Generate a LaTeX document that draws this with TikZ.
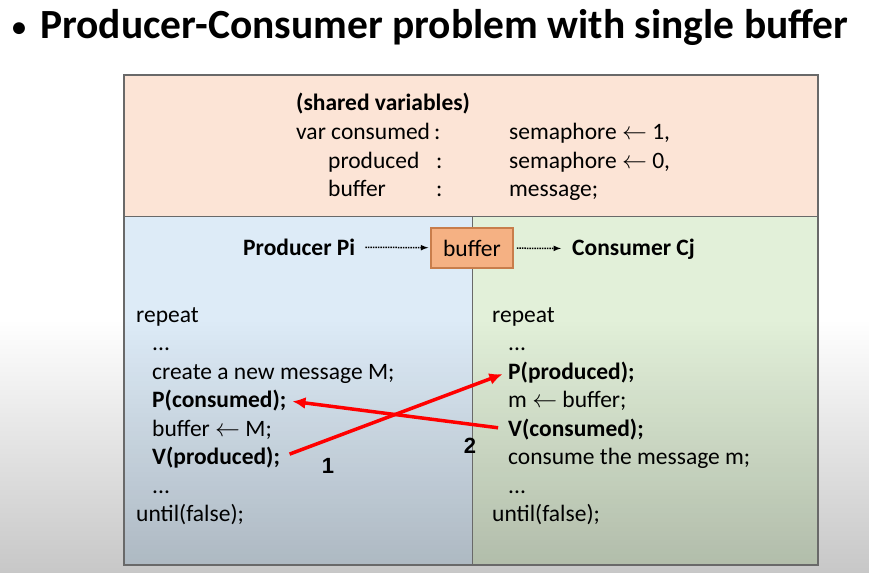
\documentclass[tikz,border=0pt]{standalone}
\usepackage{fontspec}
\setmainfont{Carlito}
\newfontfamily\numfont{Liberation Sans}
\usetikzlibrary{arrows,arrows.meta,positioning,fadings}

\definecolor{peach}{RGB}{252,228,214}
\definecolor{paleblue}{RGB}{221,235,247}
\definecolor{palegreen}{RGB}{226,240,217}
\definecolor{bufferfill}{RGB}{245,177,131}
\definecolor{bufferdraw}{RGB}{200,125,75}
\definecolor{framegray}{RGB}{105,105,105}

\tikzset{
  code/.style={anchor=base west, inner sep=0pt, font=\fontsize{23.5}{28}\selectfont},
  bcode/.style={code, font=\fontsize{23.5}{28}\selectfont\bfseries},
  sync/.style={-{Latex[length=13pt,width=12pt]}, red, line width=3.5pt, shorten <=10pt, shorten >=6pt},
  flow/.style={->, >=latex, densely dotted, line width=1.5pt},
  num/.style={font=\numfont\bfseries\fontsize{22}{22}\selectfont}
}

\begin{document}
\begin{tikzpicture}[x=1pt,y=-1pt]
    \fill[white] (0,0) rectangle (871,573);
    \useasboundingbox (0,0) rectangle (871,573);
    % title
    \node[anchor=base west, inner sep=0pt, font=\fontsize{28}{30}\selectfont\bfseries] (bullet) at (12,36) {•};
    \node[anchor=base west, inner sep=0pt, font=\fontsize{41.5}{48}\selectfont\bfseries] (title) at (40,38)
        {Producer-Consumer problem with single buffer};
    % panels
    \fill[peach] (124,75) rectangle (818,216);
    \fill[paleblue] (124,216) rectangle (472,565);
    \fill[palegreen] (472,216) rectangle (818,565);
    \fill[black, opacity=0.22, path fading=north] (0,320) rectangle (871,573);
    \draw[framegray, line width=1pt] (124,216) -- (818,216) (472,216) -- (472,565);
    \draw[framegray, line width=1.8pt] (124,75) rectangle (818,565);
    % shared variables
    \node[bcode] (shared) at (296,110) {(shared variables)};
    \node[code] (vcons) at (296,139) {var consumed};
    \node[code] (vprod) at (328,168) {produced};
    \node[code] (vbuf) at (328,196) {buffer};
    \node[code] (c1) at (434,139) {:};
    \node[code] (c2) at (436,168) {:};
    \node[code] (c3) at (436,196) {:};
    \node[code] (tcons) at (509,139) {semaphore $\leftarrow$ 1,};
    \node[code] (tprod) at (509,168) {semaphore $\leftarrow$ 0,};
    \node[code] (tbuf) at (509,196) {message;};
    % producer / buffer / consumer
    \node[bcode] (prod) at (243,255) {Producer Pi};
    \node[draw=bufferdraw, fill=bufferfill, line width=1.5pt, minimum width=82pt, minimum height=40pt,
        font=\fontsize{23.5}{28}\selectfont] (buf) at (472,248) {buffer};
    \node[bcode] (cons) at (572,255) {Consumer Cj};
    \draw[flow, shorten <=10pt, shorten >=2pt] (prod) -- (buf);
    \draw[flow, shorten <=3pt, shorten >=11pt] (buf) -- (cons);
    % producer code
    \node[code] (lrepeat) at (136,322) {repeat};
    \node[code] (ldotsa) at (152,350.5) {...};
    \node[code] (lcreate) at (152,379) {create a new message M;};
    \node[bcode] (lpcons) at (152,407.5) {P(consumed);};
    \node[code] (lbuf) at (152,436) {buffer $\leftarrow$ M;};
    \node[bcode] (lvprod) at (152,464.5) {V(produced);};
    \node[code] (ldotsb) at (152,493) {...};
    \node[code] (luntil) at (136,521.5) {until(false);};
    % consumer code
    \node[code] (rrepeat) at (492,322) {repeat};
    \node[code] (rdotsa) at (508,350.5) {...};
    \node[bcode] (rpprod) at (508,379) {P(produced);};
    \node[code] (rtake) at (508,407.5) {m $\leftarrow$ buffer;};
    \node[bcode] (rvcons) at (508,436) {V(consumed);};
    \node[code] (rconsume) at (508,464.5) {consume the message m;};
    \node[code] (rdotsb) at (508,493) {...};
    \node[code] (runtil) at (492,521.5) {until(false);};
    % signalling
    \draw[sync] (lvprod.east) -- (rpprod.west);
    \draw[sync] (rvcons.west) -- (lpcons.east);
    \node[num] (one) at (328,466) {1};
    \node[num] (two) at (470,446) {2};
\end{tikzpicture}
\end{document}
